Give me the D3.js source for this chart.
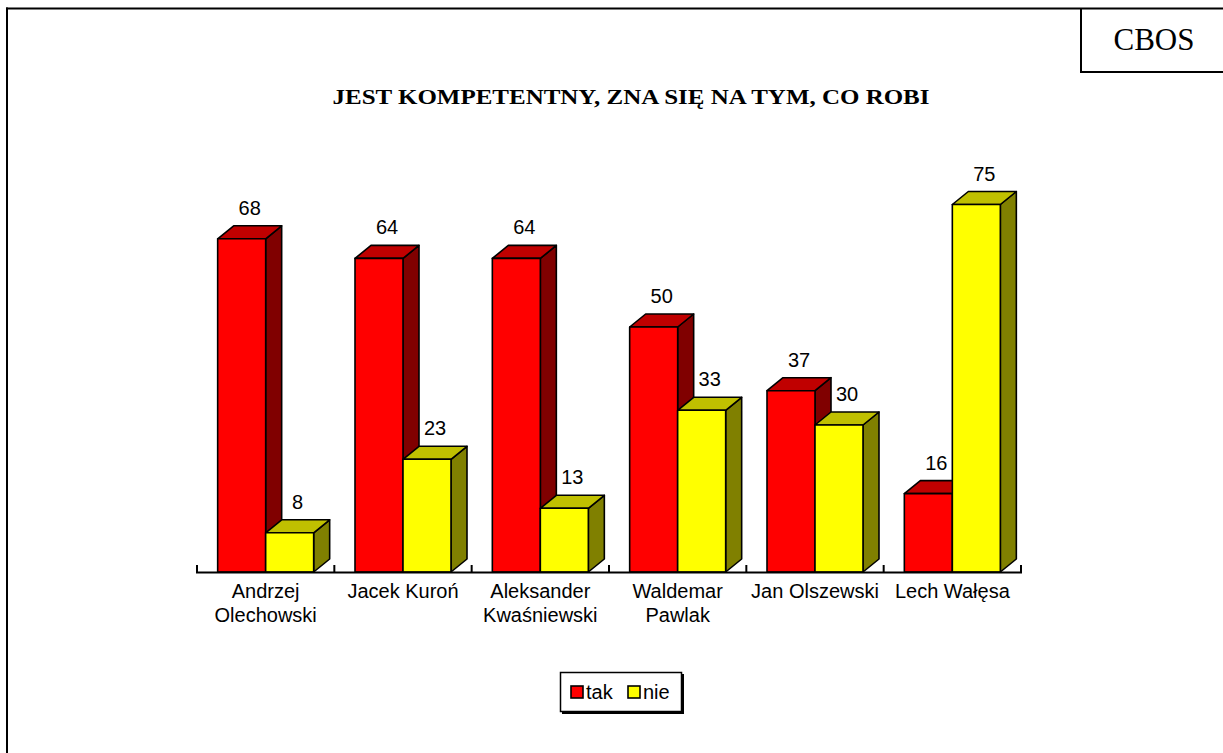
<!DOCTYPE html>
<html><head><meta charset="utf-8">
<script src="https://cdn.jsdelivr.net/npm/d3@7"></script>
<style>html,body{margin:0;padding:0;background:#fff;}svg{display:block;}</style>
</head><body>
<svg id="c" width="1223" height="753"></svg>
<script>
const categories = [["Andrzej","Olechowski"],["Jacek Kuroń"],["Aleksander","Kwaśniewski"],["Waldemar","Pawlak"],["Jan Olszewski"],["Lech Wałęsa"]];
const seriesNames = ["tak","nie"];
const takValues = [68,64,64,50,37,16];
const nieValues = [8,23,13,33,30,75];
const title = "JEST KOMPETENTNY, ZNA SIĘ NA TYM, CO ROBI";
const sourceLabel = "CBOS";

const colors = {
  tak: {front:"#FF0000", top:"#C00000", side:"#800000"},
  nie: {front:"#FFFF00", top:"#C0C000", side:"#808000"}
};

const svg = d3.select("#c");
const W = 1223, H = 753;

// frame
svg.append("line").attr("x1",6).attr("x2",W).attr("y1",8.5).attr("y2",8.5).attr("stroke","#000").attr("stroke-width",2);
svg.append("line").attr("x1",7).attr("x2",7).attr("y1",7.5).attr("y2",H).attr("stroke","#000").attr("stroke-width",2);
// CBOS box
svg.append("line").attr("x1",1081).attr("x2",1081).attr("y1",8).attr("y2",72).attr("stroke","#000").attr("stroke-width",2);
svg.append("line").attr("x1",1080).attr("x2",W).attr("y1",72).attr("y2",72).attr("stroke","#000").attr("stroke-width",2);
svg.append("text").attr("x",1154).attr("y",50).attr("text-anchor","middle")
  .attr("font-family","'Liberation Serif','Times New Roman',serif").attr("font-size",31).text(sourceLabel);

// title
svg.append("text").attr("x",631).attr("y",104).attr("text-anchor","middle")
  .attr("font-family","'Liberation Serif','Times New Roman',serif").attr("font-weight","bold")
  .attr("font-size",21).attr("textLength",597).attr("lengthAdjust","spacingAndGlyphs").text(title);

const baseY = 572;
const x = d3.scaleBand().domain(d3.range(categories.length)).range([197,1021]).padding(0);
const barW = 48;
const xs = d3.scaleBand().domain(seriesNames).range([0, barW*2]).padding(0);
const y = d3.scaleLinear().domain([0,75]).range([baseY, baseY - 75*4.9]);
const dx = 16, dy = 13;

const data = categories.map((c,i)=>({i, c, vals:[{s:"tak",v:takValues[i]},{s:"nie",v:nieValues[i]}]}));

const g = svg.append("g");
data.forEach(d=>{
  const cx = x(d.i) + x.bandwidth()/2;
  d.vals.forEach(b=>{
    const x0 = cx - barW + xs(b.s);
    const x1 = x0 + xs.bandwidth();
    const yt = y(b.v);
    const col = colors[b.s];
    const bg = g.append("g").attr("stroke","#000").attr("stroke-width",1.6).attr("stroke-linejoin","round");
    bg.append("polygon").attr("points",[[x1,yt],[x1+dx,yt-dy],[x1+dx,baseY-dy],[x1,baseY]].join(" ")).attr("fill",col.side);
    bg.append("polygon").attr("points",[[x0,yt],[x0+dx,yt-dy],[x1+dx,yt-dy],[x1,yt]].join(" ")).attr("fill",col.top);
    bg.append("rect").attr("x",x0).attr("y",yt).attr("width",x1-x0).attr("height",baseY-yt).attr("fill",col.front);
    g.append("text").attr("x",(x0+x1)/2+dx/2).attr("y",yt-dy-11).attr("text-anchor","middle")
      .attr("font-family","'Liberation Sans',Arial,sans-serif").attr("font-size",20).text(b.v);
  });
});

// axis
svg.append("line").attr("x1",196).attr("x2",1022).attr("y1",baseY+0.5).attr("y2",baseY+0.5).attr("stroke","#000").attr("stroke-width",2);
d3.range(categories.length+1).forEach(k=>{
  const tx = k < categories.length ? x(k) : x.range()[1];
  svg.append("line").attr("x1",tx).attr("x2",tx).attr("y1",baseY+1).attr("y2",baseY-7).attr("stroke","#000").attr("stroke-width",2);
});
// category labels
data.forEach(d=>{
  const cx = x(d.i) + x.bandwidth()/2;
  const t = svg.append("text").attr("text-anchor","middle")
    .attr("font-family","'Liberation Sans',Arial,sans-serif").attr("font-size",20);
  d.c.forEach((line,li)=>{
    t.append("tspan").attr("x",cx).attr("y",598+li*24).text(line);
  });
});

// legend
const lg = svg.append("g");
lg.append("rect").attr("x",562).attr("y",674).attr("width",122).attr("height",40).attr("fill","#000");
lg.append("rect").attr("x",560.5).attr("y",672.5).attr("width",121).attr("height",39).attr("fill","#fff").attr("stroke","#000").attr("stroke-width",1.5);
const legX = [571, 628];
seriesNames.forEach((s,k)=>{
  lg.append("rect").attr("x",legX[k]).attr("y",686).attr("width",12).attr("height",12)
    .attr("fill",colors[s].front).attr("stroke","#000").attr("stroke-width",1.6);
  lg.append("text").attr("x",legX[k]+15).attr("y",699)
    .attr("font-family","'Liberation Sans',Arial,sans-serif").attr("font-size",20).text(s);
});
</script>
</body></html>
